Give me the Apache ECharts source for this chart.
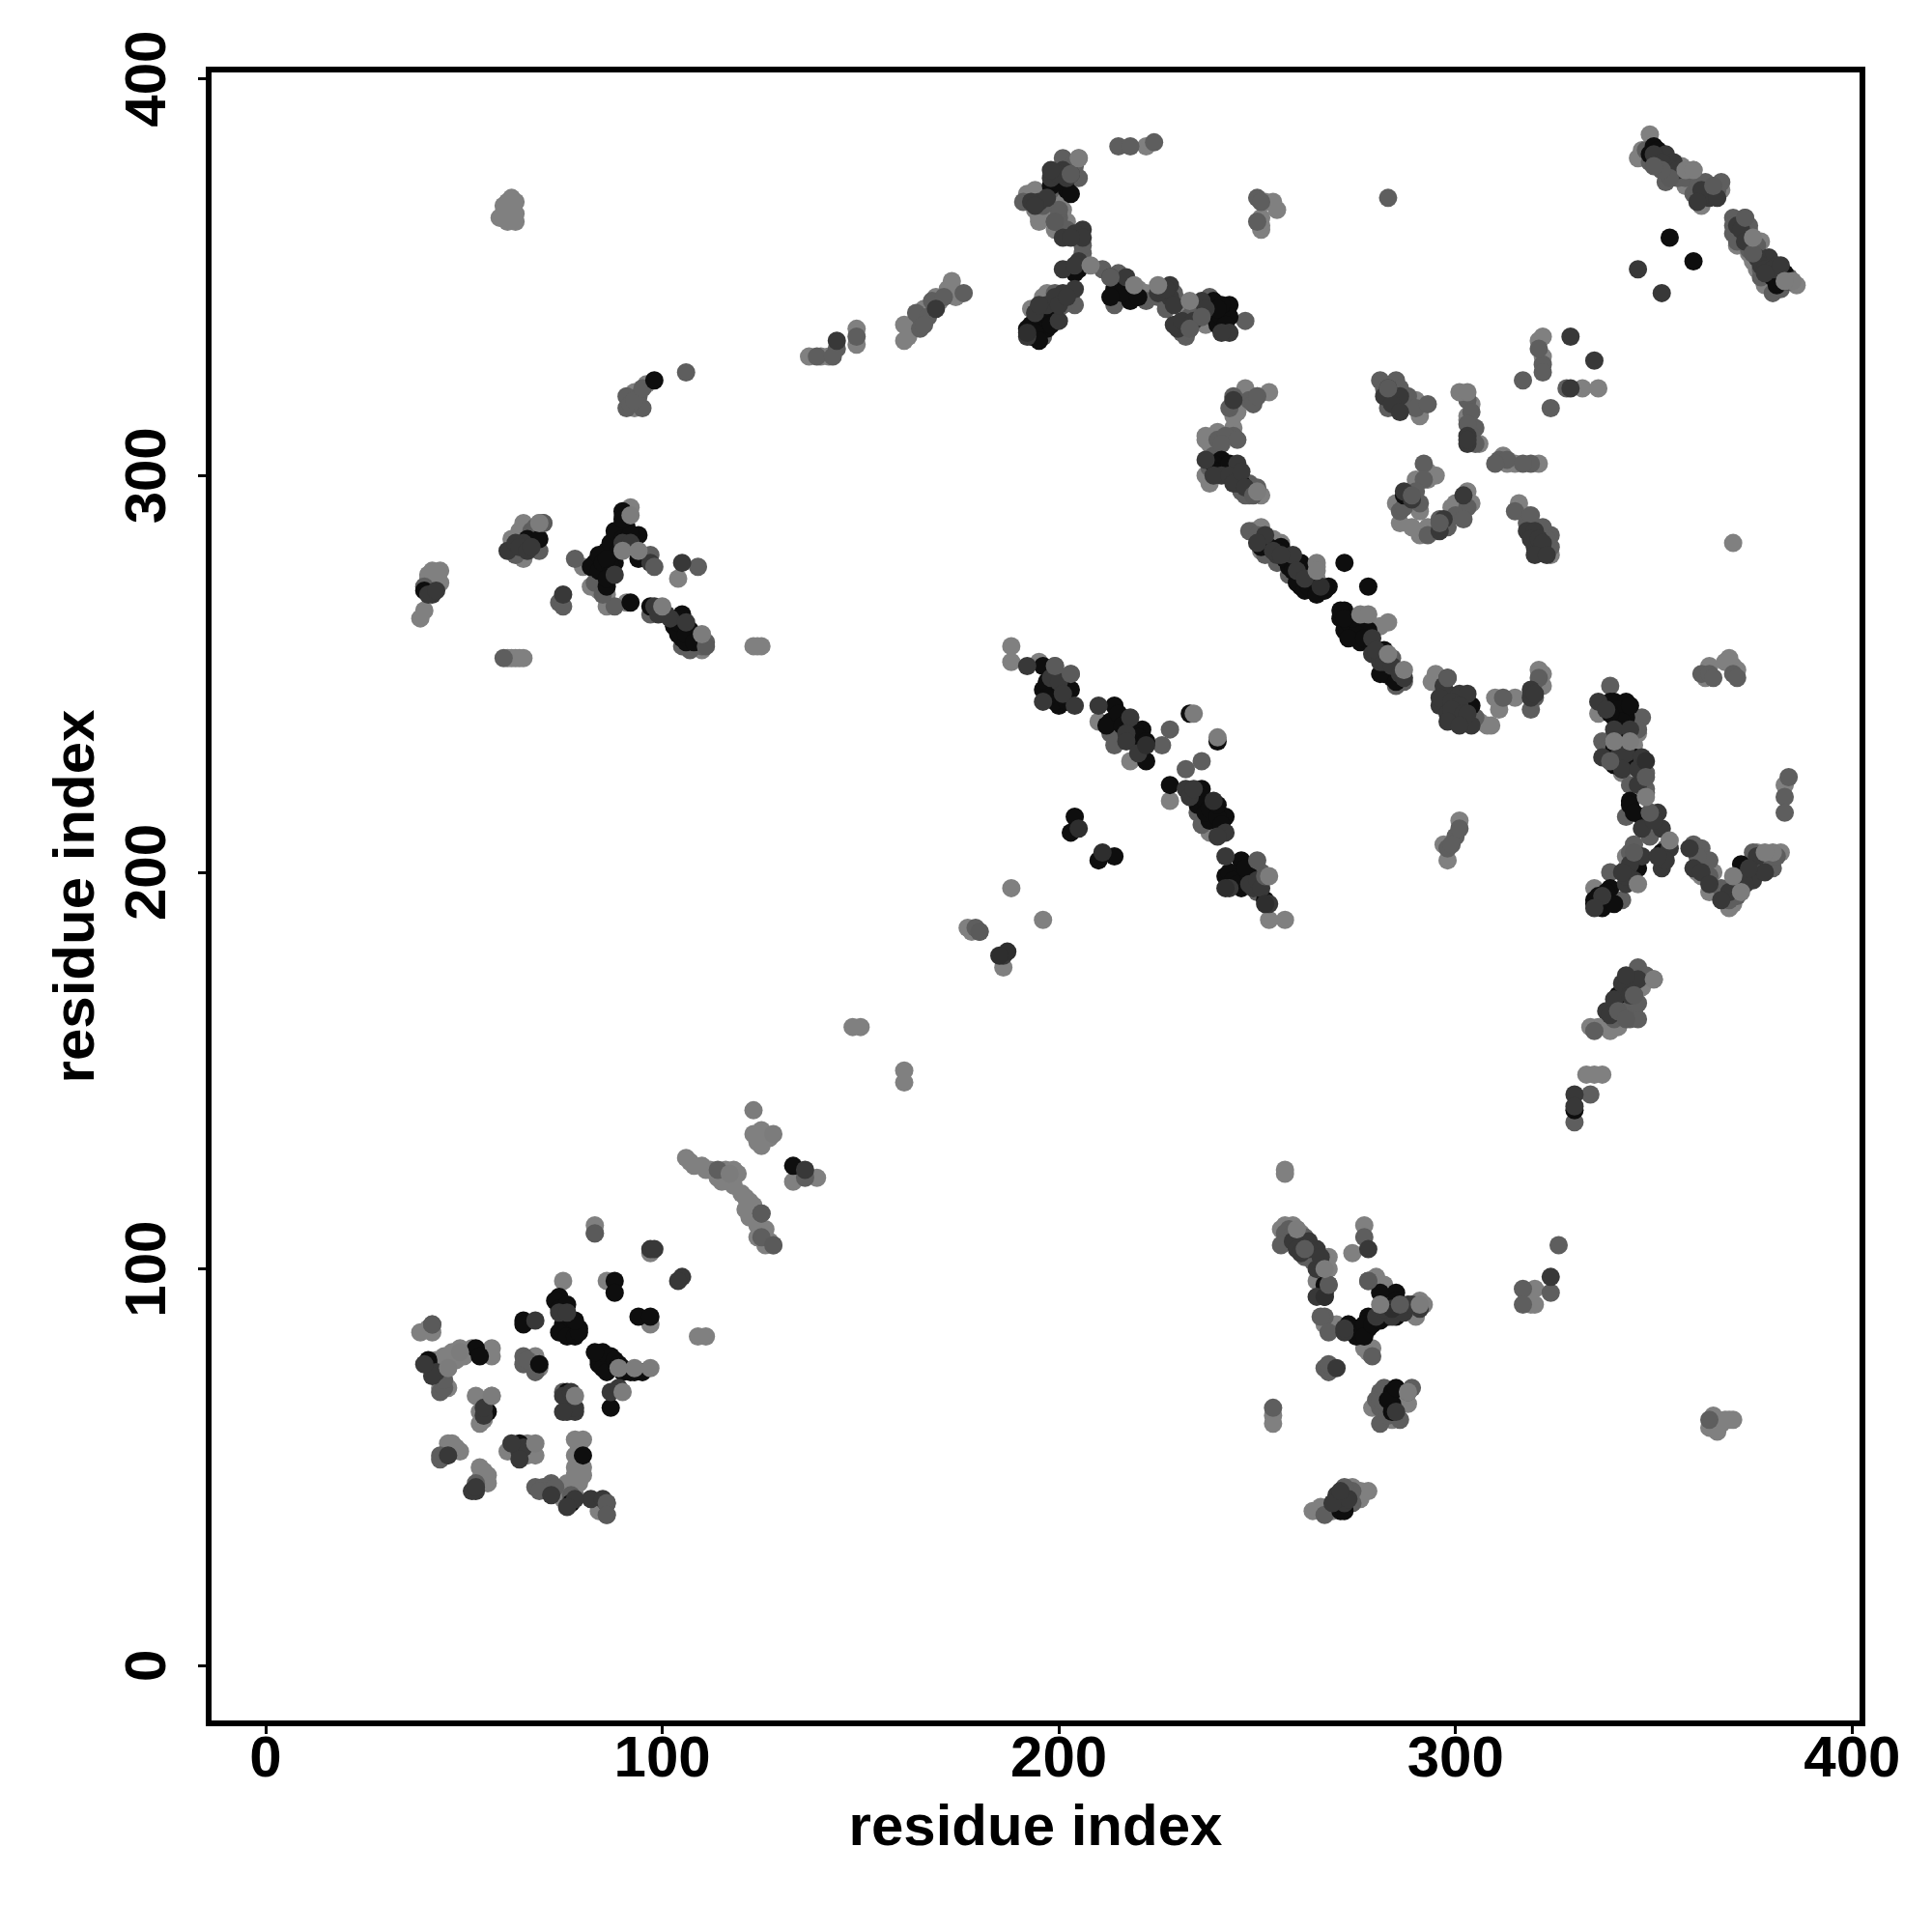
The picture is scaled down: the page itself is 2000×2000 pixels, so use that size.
<!DOCTYPE html>
<html><head><meta charset="utf-8">
<script src="https://cdn.jsdelivr.net/npm/echarts@6/dist/echarts.min.js"></script>
<style>html,body{margin:0;padding:0;background:#fff}#c{width:2000px;height:2000px}</style>
</head><body><div id="c"></div>
<script>
const tickValues = [0,100,200,300,400];
const axisTitle = "residue index";
// contact points by shade
const lightPts = [[83,111],[83,109],[97,104],[75,97],[86,97],[97,86],[109,83],[111,83],[39,84],[42,84],[42,75],[45,78],[49,80],[50,78],[57,80],[57,78],[53,68],[57,68],[54,64],[54,61],[68,78],[69,75],[48,55],[46,56],[55,49],[56,46],[61,54],[68,53],[78,57],[80,57],[78,53],[78,50],[80,50],[79,46],[75,42],[84,39],[84,41],[106,128],[110,126],[116,125],[115,122],[121,118],[121,115],[125,109],[128,106],[123,134],[133,122],[139,123],[44,276],[42,276],[44,273],[40,266],[39,264],[61,254],[65,288],[62,284],[65,279],[80,277],[86,270],[86,267],[91,291],[88,285],[91,268],[104,274],[124,257],[61,369],[62,370],[59,365],[63,364],[137,330],[149,337],[149,333],[161,334],[161,338],[173,349],[169,345],[222,383],[205,380],[199,370],[194,372],[195,365],[195,364],[199,362],[202,364],[197,346],[193,342],[188,257],[188,253],[195,253],[210,238],[218,228],[228,218],[238,210],[188,196],[196,188],[257,188],[253,188],[186,176],[148,161],[150,161],[161,150],[161,147],[244,315],[237,309],[240,311],[237,300],[291,315],[303,315],[312,305],[315,303],[321,303],[293,299],[285,293],[299,292],[291,285],[324,280],[253,283],[255,283],[251,287],[295,250],[310,244],[315,244],[309,237],[321,251],[322,335],[332,322],[336,322],[370,283],[364,252],[368,253],[370,252],[336,240],[335,196],[343,204],[343,201],[362,199],[364,195],[366,195],[369,191],[383,222],[346,380],[349,386],[358,377],[360,377],[360,374],[377,359],[375,354],[257,125],[257,124],[257,111],[260,110],[257,108],[265,97],[267,86],[270,86],[277,80],[277,111],[274,104],[280,98],[291,92],[279,65],[284,62],[288,66],[254,61],[264,39],[266,40],[273,43],[276,44],[276,43],[334,161],[338,161],[341,161],[333,149],[337,149],[350,173],[320,95],[320,91],[365,60],[367,61],[365,63],[369,62],
[41,85],[43,77],[44,76],[46,75],[47,79],[48,77],[51,79],[52,80],[44,70],[46,70],[55,67],[55,62],[47,54],[49,54],[47,56],[54,47],[55,47],[54,50],[56,48],[63,55],[66,54],[66,56],[66,53],[79,55],[79,52],[80,48],[78,48],[76,46],[78,43],[76,44],[74,43],[85,40],[86,38],
[107,127],[108,126],[111,125],[112,125],[114,123],[117,122],[118,121],[119,124],[118,125],[120,119],[122,117],[123,116],[124,114],[122,113],[124,111],[126,110],[124,108],[127,107],[126,106],[124,132],[125,131],[127,133],[125,135],[134,124],
[60,366],[61,364],[62,366],[62,368],[63,366],[60,368],[63,369],[62,254],[63,254],[65,254],[64,254],[123,257],[125,257],[140,330],[142,330],[163,337],[162,335],[166,342],[170,344],[172,347],[174,345],
[64,286],[69,288],[41,274],[41,275],[43,275],[84,271],[82,272],[90,290],[92,292],[87,283],[109,257],[110,256],[93,321],[96,323],[93,317],
[197,366],[200,368],[198,366],[194,367],[201,367],[192,371],[234,342],[232,343],[237,338],[197,338],[196,345],[220,347],[222,346],[252,369],[254,369],[255,367],[251,363],[251,362],[251,365],
[249,286],[254,284],[251,281],[256,283],[237,310],[238,308],[245,316],[244,312],[250,320],[253,321],[246,320],[247,322],[265,277],[265,274],[238,298],[248,296],[251,295],[281,262],[283,263],[285,251],[286,250],
[295,249],[294,248],[308,237],[311,241],[322,247],[322,250],[306,238],
[288,319],[290,319],[304,318],[303,314],[306,308],[290,299],[293,301],[295,300],[291,291],[286,288],[289,287],[293,287],[295,286],[303,296],[304,293],[300,293],[316,293],[318,290],[313,303],[321,334],[322,330],
[343,231],[345,232],[341,231],[342,225],[346,235],[361,200],[365,200],[370,192],[373,198],[376,205],[382,205],
[347,382],[359,376],[357,378],[358,373],[363,372],[362,368],[367,372],[371,358],[373,360],[374,362],[374,356],[376,352],[372,361],[378,348],[386,348],
[256,110],[259,111],[261,109],[264,104],[266,97],[268,103],[268,100],[273,86],[278,79],[279,80],[287,68],[282,96],[289,90],[290,88],[292,91],[274,45],[276,42],[269,39],[278,44],
[344,173],[347,171],[349,173],[335,149],[336,161],[339,160],[364,60],[366,59],[368,62],[370,62],[318,93],[319,91],[318,94],[254,63],
[297,207],[298,203],[301,213],[363,249],[371,251],[369,254],[177,186],[178,185]];
const midPts = [[42,86],[68,76],[65,78],[65,76],[75,69],[44,53],[53,46],[68,45],[72,46],[77,43],[114,125],[125,114],[125,108],[136,123],[60,254],[70,288],[62,281],[69,281],[78,279],[83,273],[74,268],[75,267],[88,267],[90,288],[97,280],[97,265],[103,262],[108,257],[111,258],[109,277],[106,326],[94,320],[91,320],[91,317],[95,317],[139,330],[165,340],[165,337],[176,346],[215,383],[218,383],[224,384],[201,380],[205,375],[198,372],[191,369],[199,364],[211,352],[215,351],[214,343],[222,344],[233,337],[236,340],[247,339],[204,343],[201,343],[196,335],[250,370],[251,369],[250,364],[283,370],[199,252],[203,250],[214,236],[226,232],[232,226],[228,236],[236,228],[180,185],[248,319],[244,310],[248,298],[248,295],[248,286],[281,324],[285,324],[286,318],[303,319],[305,312],[317,324],[324,317],[322,328],[328,322],[311,304],[319,303],[292,303],[292,299],[286,291],[303,292],[315,291],[324,285],[324,282],[283,251],[287,248],[320,244],[339,247],[347,239],[337,233],[348,221],[344,222],[343,214],[339,200],[342,193],[362,206],[364,199],[375,205],[377,201],[380,201],[362,250],[364,250],[370,250],[384,224],[383,219],[383,215],[352,377],[354,375],[370,365],[373,365],[370,361],[373,360],[380,346],[365,373],[360,371],[258,110],[258,107],[262,103],[268,96],[267,88],[277,108],[279,78],[267,75],[268,74],[278,97],[281,69],[281,65],[281,61],[254,65],[346,176],[345,169],[341,165],[345,165],[334,144],[330,137],[317,95],[317,91],[324,94],[326,106],[364,62],
[44,69],[45,70],[45,72],[68,74],[66,77],[70,45],[71,44],[69,44],[73,45],[77,42],[44,52],[144,332],[143,330],[149,335],[164,341],[167,340],[168,344],[171,345],[166,338],
[63,280],[67,286],[68,287],[40,272],[105,257],[107,256],[110,257],[109,258],[99,266],[84,274],[85,270],[92,318],[93,319],[95,322],
[199,346],[203,345],[206,356],[200,365],[202,362],[200,367],[196,368],[203,378],[204,378],[232,335],[231,336],[233,340],[234,342],[238,345],[225,345],[227,342],[196,341],[206,358],[229,346],[230,344],
[201,249],[197,248],[213,235],[216,234],[214,232],[235,215],[236,212],[249,201],[251,200],[250,195],
[250,285],[252,280],[255,278],[258,275],[238,302],[239,305],[283,253],[284,254],[285,247],[247,295],[246,296],[250,297],[249,318],[250,320],[244,320],[243,317],[240,309],[242,310],[245,309],[241,308],
[298,244],[305,239],[312,244],[319,241],[321,249],
[282,322],[286,322],[283,317],[284,319],[288,320],[290,317],[293,318],[304,316],[304,310],[305,308],[303,313],[321,332],[322,326],[291,293],[288,295],[290,296],[300,290],[302,289],[298,287],[296,289],[322,287],[323,284],[318,288],[319,290],[313,304],[310,303],[317,303],[287,292],[293,285],
[342,234],[346,236],[338,231],[339,228],[348,225],[348,220],[345,207],[349,209],[353,206],[364,203],[360,207],[361,204],[367,196],[371,194],[369,193],[371,199],[378,203],[381,204],[344,205],[345,202],
[348,382],[349,379],[356,375],[357,376],[358,375],[353,374],[362,371],[361,373],[363,374],[366,372],[367,374],[371,359],[372,363],[370,363],[374,363],[376,358],[375,356],[377,350],[374,357],[377,352],[381,349],[382,347],[384,350],
[258,108],[257,109],[256,106],[259,109],[262,108],[264,102],[269,75],[268,76],[266,88],[268,84],[280,67],[281,67],[283,63],[282,70],[286,62],[273,41],[274,41],[274,44],[288,69],[289,70],[272,45],[267,38],
[342,166],[344,163],[343,168],[339,165],[346,163],[340,163],[335,160],[346,167],[348,174],
[298,206],[300,209],[301,211],[299,207],[365,249],[371,249],[179,186]];
const darkPts = [[97,105],[98,105],[105,98],[104,97],[68,87],[74,89],[76,89],[76,64],[78,64],[87,69],[46,53],[53,44],[64,54],[72,43],[86,41],[136,125],[42,270],[75,270],[61,281],[65,283],[97,278],[101,265],[105,278],[144,334],[169,342],[198,375],[201,377],[202,375],[195,369],[201,360],[206,362],[201,352],[205,354],[201,346],[204,347],[197,343],[200,339],[192,335],[228,348],[228,345],[230,337],[236,344],[243,336],[192,252],[196,243],[204,242],[210,242],[218,239],[217,235],[232,221],[242,210],[242,204],[243,196],[253,192],[249,196],[244,319],[237,304],[245,303],[241,300],[245,298],[282,320],[286,320],[303,310],[329,322],[302,295],[296,286],[318,286],[320,286],[320,282],[255,280],[259,280],[279,259],[279,255],[281,253],[298,249],[298,245],[301,245],[303,245],[296,242],[298,240],[304,237],[319,244],[329,335],[335,329],[336,243],[340,236],[344,236],[337,229],[341,229],[351,215],[347,211],[352,211],[354,206],[352,201],[347,204],[343,197],[359,206],[360,201],[369,195],[375,198],[353,381],[355,379],[364,370],[346,352],[352,346],[379,355],[381,353],[262,106],[265,105],[265,100],[278,105],[270,75],[288,91],[291,90],[284,88],[272,84],[280,88],[270,43],[272,41],[346,173],[342,172],[338,165],[330,144],[330,141],[324,98],
[43,74],[42,73],[40,76],[52,44],[53,45],[65,55],[62,56],[64,52],[82,42],[85,42],[78,42],[76,40],[75,68],[77,69],[78,65],[75,64],[55,63],[55,65],[89,70],
[63,283],[64,282],[66,281],[67,282],[41,270],[43,271],[88,275],[90,283],[92,283],[98,267],[99,265],[102,264],[106,263],
[194,341],[199,345],[200,343],[202,345],[200,376],[198,377],[203,376],[204,361],[206,360],[203,360],[225,346],[226,347],[227,347],[229,343],[229,338],[231,339],[234,339],[237,342],[241,336],[195,343],[197,370],[193,369],[194,368],[213,350],[217,350],[204,353],
[198,249],[200,248],[201,245],[217,233],[220,230],[233,219],[234,221],[240,209],[248,197],[250,198],[251,196],
[252,285],[254,281],[256,280],[260,276],[262,274],[280,256],[282,253],[284,252],[239,300],[243,300],[244,298],[246,301],[247,297],[250,283],[286,250],[287,249],
[297,247],[296,244],[299,243],[301,242],[299,241],[302,240],[303,240],[298,238],[301,237],[319,246],[320,245],
[283,322],[284,318],[286,316],[303,308],[287,296],[289,294],[297,289],[319,284],[321,284],[322,283],[320,280],[323,280],[303,309],
[338,241],[340,233],[343,230],[342,226],[346,226],[347,229],[346,222],[349,215],[350,213],[353,203],[351,204],[344,202],[345,198],[343,199],[342,200],[362,200],[364,197],[367,193],[373,197],[378,200],[376,204],[374,201],[337,194],[335,191],
[350,381],[352,379],[355,377],[356,377],[363,371],[362,372],[361,369],[366,370],[371,363],[372,362],[376,355],[377,353],[378,352],[380,352],[382,353],[378,351],[384,349],[373,359],
[259,107],[260,105],[261,104],[263,107],[263,105],[266,103],[265,93],[272,85],[287,89],[273,42],[269,41],[271,44],[289,91],[282,90],[285,64],
[340,168],[339,164],[343,171],[343,174],[344,169],[186,179]];
const blackPts = [[65,87],[74,93],[75,86],[77,84],[79,85],[76,85],[88,97],[88,94],[94,88],[97,88],[41,77],[41,76],[53,80],[54,78],[56,64],[69,76],[76,69],[85,78],[84,77],[87,78],[86,76],[87,76],[93,74],[90,74],[87,65],[64,56],[77,41],[80,53],[133,126],[40,271],[66,284],[69,284],[83,278],[83,277],[85,279],[86,281],[88,278],[86,276],[86,272],[90,291],[91,287],[91,285],[94,285],[94,279],[92,268],[97,267],[105,265],[105,262],[105,259],[107,259],[98,324],[202,372],[205,352],[214,347],[218,348],[218,344],[239,344],[239,340],[243,343],[243,340],[193,338],[196,339],[199,342],[193,335],[196,252],[196,246],[199,246],[203,246],[200,242],[214,242],[213,238],[221,236],[222,228],[233,240],[240,233],[228,222],[236,221],[235,217],[238,213],[242,214],[246,203],[242,199],[246,199],[246,196],[204,214],[203,210],[210,203],[214,204],[241,304],[287,295],[256,282],[251,282],[258,277],[261,278],[261,272],[264,271],[263,274],[272,278],[278,272],[272,266],[271,264],[272,261],[276,261],[278,261],[276,258],[282,256],[282,250],[304,242],[340,243],[339,243],[343,243],[340,239],[343,239],[340,227],[344,228],[344,218],[347,214],[352,205],[346,201],[339,196],[335,192],[338,193],[372,202],[371,197],[354,360],[360,354],[350,383],[350,380],[354,377],[383,351],[380,350],[267,93],[267,96],[276,85],[278,88],[275,83],[278,85],[285,94],[285,91],[281,94],[284,69],[284,66],[271,39],[341,169],[330,140],
[65,86],[73,92],[74,90],[74,84],[76,83],[78,83],[79,84],[78,87],[76,91],[84,76],[85,75],[86,74],[85,79],[88,77],[89,76],[90,75],[83,79],[92,74],[95,74],
[82,277],[84,276],[84,280],[85,278],[87,277],[88,282],[87,283],[89,281],[86,279],[87,275],[86,274],[88,286],[90,284],[92,285],[90,289],[103,262],[104,260],[104,263],[106,258],[107,261],[106,260],[105,264],[108,258],
[195,337],[194,339],[197,337],[198,340],[192,337],[198,338],[194,336],[195,334],[204,351],[216,346],[213,345],[220,345],[240,338],[241,340],[241,343],[242,338],[240,342],[198,373],[200,374],[203,371],
[197,248],[199,243],[202,243],[197,244],[212,237],[215,240],[216,237],[218,236],[219,236],[220,234],[222,233],[236,219],[237,215],[238,216],[240,214],[240,217],[241,212],[243,200],[244,198],[245,197],[248,199],[247,201],[252,193],
[253,282],[255,281],[257,279],[259,278],[259,276],[260,273],[262,271],[263,272],[265,270],[267,271],[268,272],[263,276],[273,263],[275,260],[273,259],[277,259],[274,264],[279,257],[281,255],[283,252],[284,249],[281,250],[271,266],[272,264],[239,303],[240,301],[243,303],[246,298],[285,248],
[341,241],[342,238],[339,240],[344,242],[341,236],[340,231],[342,226],[345,229],[344,217],[345,215],[338,195],[337,191],[336,194],[340,192],[335,193],
[351,382],[352,380],[351,378],[353,378],[354,376],[349,381],[381,351],[382,350],[381,348],[383,349],[379,352],
[273,86],[275,85],[276,84],[277,86],[277,83],[279,86],[281,87],[283,88],[285,92],[285,88],[286,89],[283,67],[285,70],[284,64],[270,41],[272,39],[267,94]];
const topDark = [[222,232],[239,218],[252,192],[242,196],[266,272],[284,90],[267,93],[205,211],[211,205],[348,228],[192,336],[187,180],[185,179]];
const topMid = [[83,109],[42,86],[125,114],[128,106],[70,288],[98,277],[111,257],[199,252],[203,250],[250,203],[252,199],[249,295],[296,288],[289,295],[298,249],[348,224],[354,375],[373,365],[365,373],[268,96],[345,169],[286,91],[180,185],[86,41],[86,38],[213,350],[283,322],[352,377],[350,378],[375,356],[341,165],[343,163],[203,376],[199,364],[236,340],[233,337],[339,228],[349,215],[345,205],[262,105],[278,97]];
const topLight = [[93,75],[89,75],[97,75],[90,69],[78,68],[92,290],[90,281],[94,281],[110,260],[100,267],[233,344],[225,348],[208,353],[219,348],[234,240],[240,234],[265,278],[265,276],[276,265],[278,265],[283,255],[287,251],[253,199],[250,296],[340,233],[348,219],[354,208],[344,233],[346,197],[370,199],[267,100],[260,110],[291,91],[281,91],[288,69],[350,173],[372,195],[375,360],[385,349],[383,349],[380,205],[378,205],[301,321],[303,321],[68,56],[123,140],[128,134],[117,124],[69,288],[205,380],[358,377],[360,377],[46,75],[49,79],[57,68]];

// drawn in this order, so that lighter marks sit over the darkest ones
const shades = [
 [lightPts,'#808080'],[midPts,'#5e5e5e'],[blackPts,'#0e0e0e'],[darkPts,'#383838'],
 [topDark,'#2e2e2e'],[topMid,'#5a5a5a'],[topLight,'#7c7c7c']
];
const chart = echarts.init(document.getElementById('c'),null,{renderer:'canvas'});
const font = {fontFamily:'"Liberation Sans"',fontWeight:'bold',fontSize:60,color:'#000'};
chart.setOption({
 animation:false,
 backgroundColor:'#fff',
 grid:{left:216,top:72,width:1712,height:1712,show:true,borderColor:'#000',borderWidth:6,backgroundColor:'#fff',containLabel:false},
 xAxis:{type:'value',min:-14.37,max:402.6,splitLine:{show:false},axisLine:{show:false,onZero:false},
  axisTick:{show:true,length:11,lineStyle:{width:3,color:'#000'},customValues:tickValues},
  axisLabel:{...font,margin:8,customValues:tickValues,formatter:v=>String(v)},
  name:axisTitle,nameLocation:'middle',nameGap:79,nameTextStyle:font},
 yAxis:{type:'value',min:-14.54,max:402.35,splitLine:{show:false},axisLine:{show:false,onZero:false},
  axisTick:{show:true,length:11,lineStyle:{width:3,color:'#000'},customValues:tickValues},
  axisLabel:{...font,rotate:90,margin:32,customValues:tickValues,formatter:v=>String(v)},
  name:axisTitle,nameLocation:'middle',nameGap:106,nameRotate:90,nameTextStyle:font},
 series:shades.map(([pts,c])=>({type:'scatter',data:pts,symbol:'circle',symbolSize:19,itemStyle:{color:c,opacity:1},silent:true}))
});
</script></body></html>
